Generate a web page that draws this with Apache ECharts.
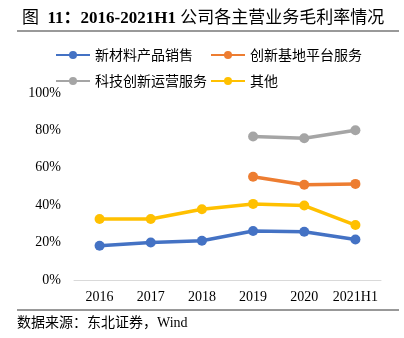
<!DOCTYPE html>
<html><head><meta charset="utf-8">
<script src="https://cdn.jsdelivr.net/npm/echarts@6/dist/echarts.min.js"></script>
<style>html,body{margin:0;padding:0;background:#fff}#c{width:404px;height:338px}</style>
</head><body><div id="c"></div>
<script>
var categories = ['2016','2017','2018','2019','2020','2021H1'];
var seriesNames = ['新材料产品销售','创新基地平台服务','科技创新运营服务','其他'];
var newMaterial = [18.3, 20.1, 21.0, 26.2, 25.8, 21.7];
var innovationBase = [null, null, null, 55.2, 50.9, 51.4];
var techOperation = [null, null, null, 76.7, 75.8, 80.1];
var others = [32.6, 32.6, 37.8, 40.7, 39.8, 29.4];
var yTicks = [0, 20, 40, 60, 80, 100];
var titleParts = ['图  ', '11：2016-2021H1 ', '公司各主营业务毛利率情况'];
var sourceText = '数据来源：东北证券，Wind';

var colors = ['#4472C4','#ED7D31','#A5A5A5','#FFC000'];
var serif = '"Liberation Serif","Noto Sans CJK SC",serif';
var values = [newMaterial, innovationBase, techOperation, others];
var chart = echarts.init(document.getElementById('c'));
var legendText = {fontSize: 14, color: '#000', fontFamily: '"Noto Sans CJK SC",sans-serif'};
chart.setOption({
  animation: false,
  color: colors,
  title: {text: '{n|' + titleParts[0] + '}{b|' + titleParts[1] + '}{n|' + titleParts[2] + '}', left: 17, top: 5,
    textStyle: {fontSize: 17, color: '#000', fontFamily: serif,
      rich: {n: {fontSize: 17, fontWeight: 'normal', color: '#000', fontFamily: serif},
             b: {fontSize: 17, fontWeight: 'bold', color: '#000', fontFamily: serif}}}},
  legend: [
    {data: [seriesNames[0], seriesNames[2]], orient: 'vertical', left: 50, top: 43, itemWidth: 34, itemHeight: 10, itemGap: 12, textStyle: legendText},
    {data: [seriesNames[1], seriesNames[3]], orient: 'vertical', left: 205, top: 43, itemWidth: 34, itemHeight: 10, itemGap: 12, textStyle: legendText}
  ],
  grid: {left: 74, right: 23, top: 93, bottom: 58},
  xAxis: {type: 'category', data: categories, boundaryGap: true,
    axisLine: {lineStyle: {color: '#D9D9D9', width: 1}}, axisTick: {show: false},
    axisLabel: {color: '#000', fontSize: 14, fontFamily: serif, margin: 10, interval: 0}},
  yAxis: {type: 'value', min: yTicks[0], max: yTicks[yTicks.length-1], interval: 20,
    splitLine: {show: false}, axisLine: {show: false}, axisTick: {show: false},
    axisLabel: {color: '#000', fontSize: 14, fontFamily: serif, margin: 13, formatter: '{value}%'}},
  graphic: [
    {type: 'line', shape: {x1: 17, y1: 31, x2: 399, y2: 31}, style: {stroke: '#999', lineWidth: 2}},
    {type: 'line', shape: {x1: 17, y1: 310, x2: 399, y2: 310}, style: {stroke: '#333', lineWidth: 1}},
    {type: 'text', left: 17, top: 316, style: {text: sourceText, fontSize: 14, fill: '#000', fontFamily: serif}}
  ],
  series: seriesNames.map(function(n, i){
    return {name: n, type: 'line', data: values[i], symbol: 'circle', symbolSize: 10,
      lineStyle: {width: 3.5}, connectNulls: false};
  })
});
</script></body></html>
